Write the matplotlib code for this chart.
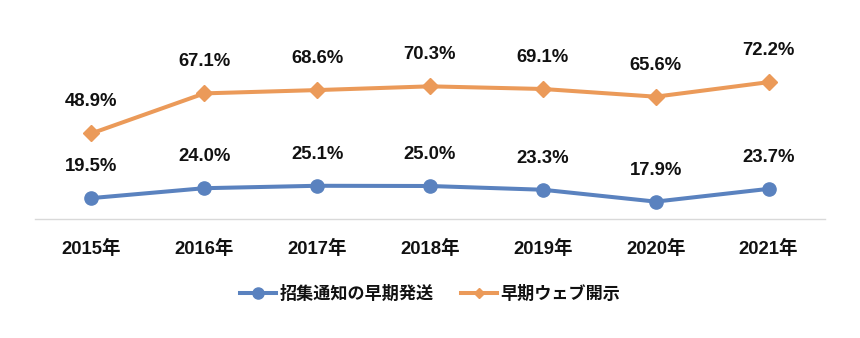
import numpy as np
import matplotlib
matplotlib.use("Agg")
import matplotlib.pyplot as plt
from matplotlib.lines import Line2D

plt.rcParams['font.family'] = ['Liberation Sans', 'Noto Sans CJK JP', 'DejaVu Sans']

years = ["2015年", "2016年", "2017年", "2018年", "2019年", "2020年", "2021年"]
early_notice = [19.5, 24.0, 25.1, 25.0, 23.3, 17.9, 23.7]
early_web = [48.9, 67.1, 68.6, 70.3, 69.1, 65.6, 72.2]
series_names = ["招集通知の早期発送", "早期ウェブ開示"]

BLUE = "#5a82bf"
ORANGE = "#eb9a59"
TEXT = "#111111"

fig = plt.figure(figsize=(8.6, 3.38), dpi=100)
ax = fig.add_axes([35 / 860, 1 - 219 / 338, 790 / 860, (219 - 65) / 338])
x = np.arange(len(years))

for vals, color, marker, ms in [(early_notice, BLUE, 'o', 9.5), (early_web, ORANGE, 'D', 8.5)]:
    ax.plot(x, vals, color=color, lw=2.9, solid_capstyle='round', solid_joinstyle='round',
            marker=marker, ms=ms, zorder=3)
    for xi, v in zip(x, vals):
        ax.annotate(f"{v:.1f}%", (xi, v), xytext=(0, 19.5), textcoords='offset points',
                    ha='center', va='baseline', fontsize=13.3, fontweight='bold', color=TEXT)

ax.set_xlim(-0.5, len(years) - 0.5)
ax.set_ylim(10, 80)
ax.set_yticks([])
ax.set_xticks(x)
ax.set_xticklabels(years, fontsize=13.3, fontweight='bold', color=TEXT)
ax.tick_params(axis='x', length=0, pad=15)
for s in ['top', 'left', 'right']:
    ax.spines[s].set_visible(False)
ax.spines['bottom'].set_color('#d9d9d9')
ax.spines['bottom'].set_linewidth(1)

handles = [
    Line2D([0], [0], color=BLUE, lw=2.9, marker='o', ms=8),
    Line2D([0], [0], color=ORANGE, lw=2.9, marker='D', ms=5.5),
]
leg = fig.legend(handles, series_names, loc='center', bbox_to_anchor=(430 / 860, 1 - 293 / 338),
                 ncol=2, frameon=False, handlelength=2.1, columnspacing=1.6, handletextpad=0.2,
                 prop={'weight': 'bold', 'size': 12.3})
for t in leg.get_texts():
    t.set_color(TEXT)

fig.savefig("out.png", dpi=100)
